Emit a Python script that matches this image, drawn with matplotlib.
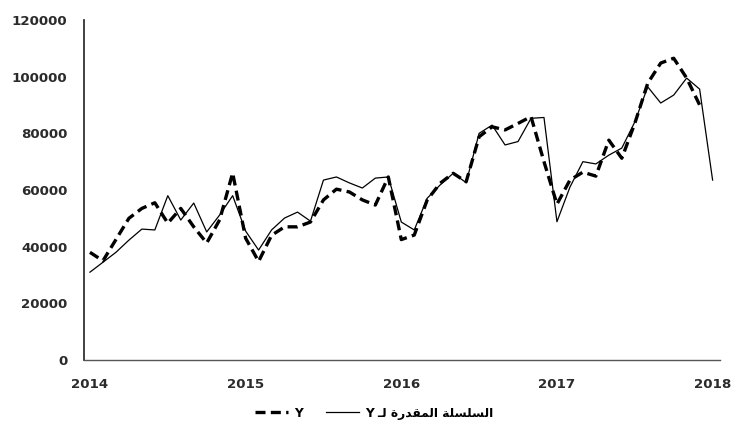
import matplotlib.pyplot as plt
import numpy as np

# monthly values, Jan 2014 .. Dec 2017 (actual) and Jan 2014 .. Jan 2018 (estimated)
actual = [38000, 35000, 42500, 50000, 53500, 55500, 48300, 53500, 47000, 41300, 49500, 66000,
          43000, 34800, 44000, 47000, 47000, 48700, 56500, 60300, 59300, 56500, 54700, 64600,
          42500, 44100, 56500, 62400, 65900, 62900, 78800, 82300, 81200, 83500, 85900, 70000,
          55000, 63500, 66300, 64900, 77600, 71200, 83500, 97700, 104800, 106500, 99500, 90000]
estimated = [31000, 34500, 38000, 42300, 46200, 45900, 58000, 49400, 55400, 45200, 51200, 58000,
             45500, 38800, 45900, 50100, 52200, 49000, 63500, 64600, 62500, 60700, 64200, 64600,
             48700, 45900, 57100, 61800, 65900, 62600, 80000, 82900, 75900, 77100, 85300, 85600,
             48800, 61000, 70000, 69200, 72300, 74800, 84000, 96400, 90700, 93500, 99500, 95600,
             63500]
years = ["2014", "2015", "2016", "2017", "2018"]
yticks = [0, 20000, 40000, 60000, 80000, 100000, 120000]


def visual_arabic(words):
    # matplotlib does no shaping / bidi, so build presentation forms in visual order
    return " ".join(w[::-1] for w in reversed(words))


w1 = "\uFE8D\uFEDF\uFEB4\uFEE0\uFEB4\uFEE0\uFE94"   # السلسلة
w2 = "\uFE8D\uFEDF\uFEE4\uFED8\uFEAA\uFEAD\uFE93"   # المقدرة
w3 = "\uFEDF\u0640"                                  # لـ
label_est = "Y " + visual_arabic([w1, w2, w3])
label_act = "Y"

fig = plt.figure(figsize=(7.31, 4.33), dpi=100)
ax = fig.add_axes([84 / 731, 1 - 360 / 433, 636 / 731, 340 / 433])

x_act = np.arange(len(actual))
x_est = np.arange(len(estimated))
ax.plot(x_act, actual, color="black", lw=2.4, linestyle=(0, (3, 1.6)), label=label_act)
ax.plot(x_est, estimated, color="black", lw=0.9, label=label_est)

ax.set_xlim(-0.46, 48.57)
ax.set_ylim(0, 120000)
ax.set_xticks(np.arange(0, 49, 12))
ax.set_xticklabels(years)
ax.set_yticks(yticks)
ax.set_yticklabels([str(v) for v in yticks])
ax.tick_params(axis="y", length=0, pad=12, labelsize=9.6, labelcolor="#2b2b2b")
ax.tick_params(axis="x", length=0, pad=13, labelsize=9.6, labelcolor="#2b2b2b")
for lab in ax.get_xticklabels() + ax.get_yticklabels():
    lab.set_fontweight("bold")

for s in ["top", "right"]:
    ax.spines[s].set_visible(False)
ax.spines["left"].set_color("#333333")
ax.spines["bottom"].set_color("#555555")
ax.spines["left"].set_linewidth(1.3)
ax.spines["bottom"].set_linewidth(1.0)

leg = fig.legend(loc="center", bbox_to_anchor=(0.512, 0.046), ncol=2, frameon=False,
                 handlelength=2.7, handletextpad=0.5, columnspacing=1.9,
                 prop={"size": 8.8, "weight": "bold"})

fig.savefig("out.png", dpi=100)
